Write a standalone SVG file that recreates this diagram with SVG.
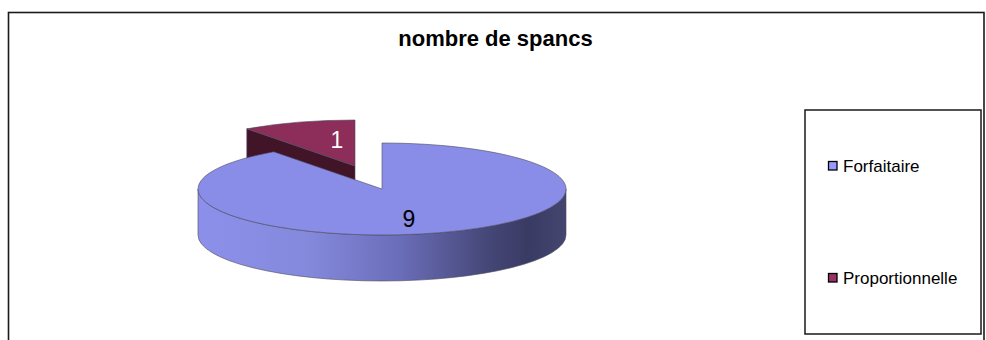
<svg xmlns="http://www.w3.org/2000/svg" width="986" height="340" viewBox="0 0 986 340">
<style>
text{font-family:"Liberation Sans",Arial,sans-serif;}
.title{font-size:22px;font-weight:bold;fill:#000;}
.lbl{font-size:23px;}
.leg{font-size:17px;fill:#000;}
.edge{stroke:#4a4a5a;stroke-width:0.6;}
.sq{stroke:#000;stroke-width:1.3;}
</style>
<defs>
<linearGradient id="side" x1="198" y1="0" x2="566" y2="0" gradientUnits="userSpaceOnUse">
<stop offset="0" stop-color="#8c90ea"/>
<stop offset="0.3" stop-color="#8589dc"/>
<stop offset="0.55" stop-color="#6a6db8"/>
<stop offset="0.8" stop-color="#434574"/>
<stop offset="0.9" stop-color="#3a3b64"/>
<stop offset="1" stop-color="#44466f"/>
</linearGradient>
</defs>
<rect width="986" height="340" fill="#fff"/>
<g id="frame">
<rect x="8.5" y="12.5" width="975.5" height="340" fill="none" stroke="#1a1a1a" stroke-width="1.6"/>
</g>
<g id="title">
<text class="title" x="495.5" y="46" text-anchor="middle">nombre de spancs</text>
</g>
<g id="slice-proportionnelle">
<path d="M246.8,128.8 L355,166 L355,212 L246.8,174.8 Z" fill="#421428" class="edge"/>
<path d="M355,166 L246.8,128.8 A184,46 0 0 1 355,120 Z" fill="#8c2d5a" class="edge"/>
<text class="lbl" x="337" y="148" text-anchor="middle" fill="#fff">1</text>
</g>
<g id="slice-forfaitaire">
<path d="M198,189 A184,46 0 0 0 566,189 L566,235 A184,46 0 0 1 198,235 Z" fill="url(#side)" class="edge"/>
<path d="M382,189 L382,143 A184,46 0 1 1 273.8,151.8 Z" fill="#8a8de8" class="edge"/>
<text class="lbl" x="409" y="227" text-anchor="middle" fill="#000">9</text>
</g>
<g id="legend">
<rect x="805" y="110" width="176" height="224" fill="#fff" stroke="#1a1a1a" stroke-width="1.5"/>
<g id="legend-forfaitaire">
<rect class="sq" x="828.5" y="161.5" width="8.5" height="8.5" fill="#9999ff"/>
<text class="leg" x="843" y="172">Forfaitaire</text>
</g>
<g id="legend-proportionnelle">
<rect class="sq" x="828.5" y="273.5" width="8.5" height="8.5" fill="#993366"/>
<text class="leg" x="843" y="284">Proportionnelle</text>
</g>
</g>
</svg>
